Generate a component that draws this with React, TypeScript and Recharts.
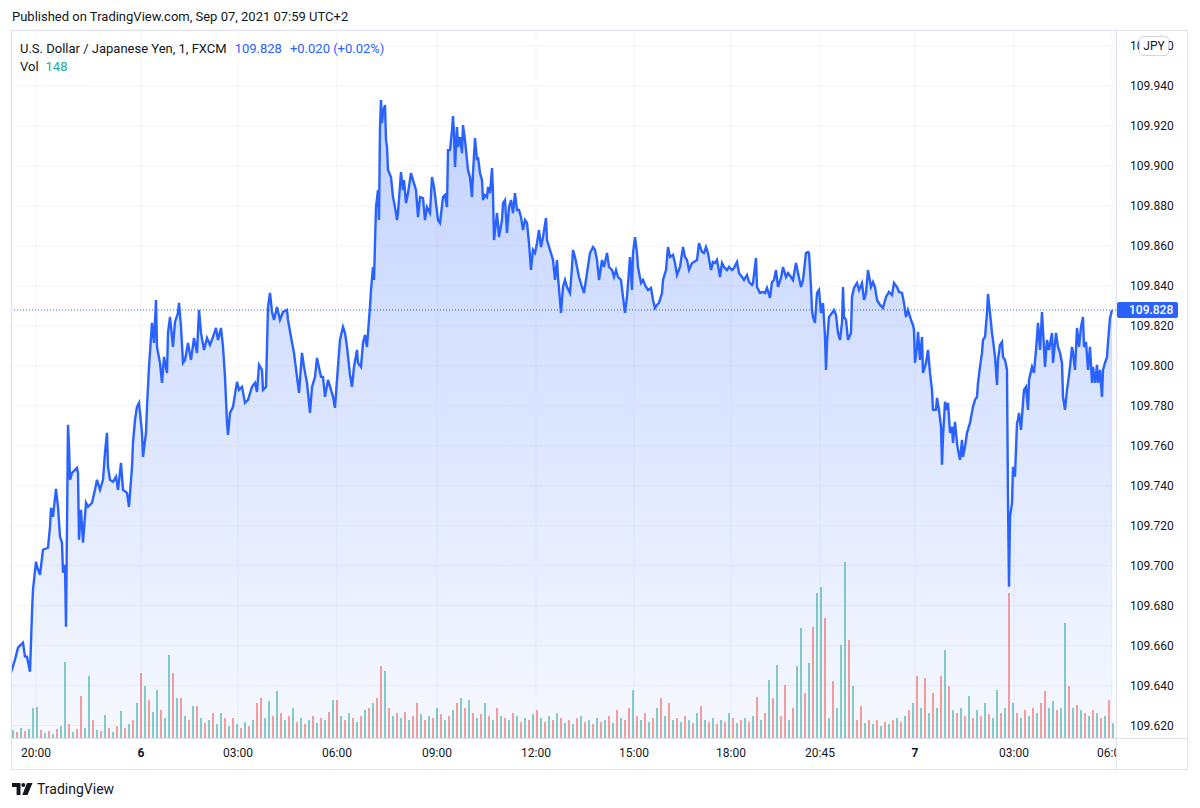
import React from "react";
import {
  ComposedChart,
  Area,
  Bar,
  XAxis,
  YAxis,
  CartesianGrid,
  ReferenceLine,
} from "recharts";

const FONT = 'Roboto, "Noto Sans", Arial, sans-serif';
const TEXT = "#131722";
const BLUE = "#2962ff";
const UP = "#26a69a";
const DOWN = "#ef5350";
const BORDER = "#e0e3eb";

// time slot (1 slot ~ one pixel column of the session) vs close price
const closes: [number, number][] = [
  [0,109.6465],[4,109.653],[7,109.659],[10,109.6605],[12,109.6615],[14,109.6545],[16,109.6545],[19,109.647],[21,109.6765],[22,109.688],
  [25,109.702],[26,109.6995],[29,109.6955],[32,109.708],[37,109.709],[39,109.7195],[40,109.729],[42,109.7245],[45,109.7385],[47,109.7295],
  [49,109.7145],[51,109.7115],[52,109.6965],[54,109.7005],[55,109.6695],[57,109.7705],[58,109.7595],[59,109.743],[61,109.7465],[62,109.747],
  [66,109.749],[67,109.7465],[68,109.713],[70,109.728],[72,109.7115],[75,109.7315],[77,109.7295],[81,109.7315],[84,109.738],[86,109.743],
  [89,109.738],[92,109.743],[94,109.7565],[96,109.7665],[97,109.7495],[99,109.743],[102,109.742],[105,109.7445],[107,109.738],[110,109.7515],
  [112,109.738],[116,109.7365],[118,109.7295],[121,109.7495],[122,109.7615],[124,109.773],[126,109.7795],[128,109.7815],[131,109.7665],[132,109.7545],
  [135,109.7665],[136,109.7795],[138,109.7995],[141,109.8215],[143,109.8115],[145,109.833],[146,109.8095],[149,109.8015],[151,109.7915],[153,109.8045],
  [156,109.7965],[157,109.8165],[159,109.8245],[162,109.8095],[164,109.822],[167,109.8265],[168,109.8315],[170,109.8195],[172,109.8015],[174,109.803],
  [177,109.8115],[180,109.803],[183,109.814],[186,109.8065],[188,109.828],[190,109.8165],[193,109.808],[196,109.814],[199,109.8105],[202,109.8145],
  [205,109.819],[207,109.813],[210,109.819],[212,109.8095],[214,109.7945],[216,109.7715],[217,109.7655],[219,109.7765],[222,109.7795],[226,109.792],
  [228,109.788],[231,109.7895],[234,109.7815],[237,109.783],[241,109.7895],[244,109.7915],[246,109.787],[248,109.8005],[251,109.798],[252,109.788],
  [255,109.7895],[257,109.8295],[259,109.8365],[261,109.827],[263,109.823],[266,109.8295],[269,109.823],[272,109.827],[276,109.828],[277,109.823],
  [280,109.8145],[283,109.8065],[286,109.7945],[288,109.7865],[291,109.8065],[293,109.7995],[296,109.7915],[299,109.7765],[301,109.7895],[304,109.7945],
  [306,109.804],[307,109.8015],[310,109.7945],[312,109.7945],[314,109.7845],[317,109.793],[320,109.788],[322,109.7845],[324,109.779],[326,109.793],
  [329,109.813],[332,109.8195],[334,109.8165],[336,109.8095],[339,109.7955],[341,109.7895],[343,109.7995],[346,109.808],[347,109.8015],[350,109.7995],
  [352,109.8115],[354,109.8155],[356,109.8095],[357,109.8165],[359,109.8295],[360,109.838],[362,109.8495],[363,109.843],[365,109.8795],[367,109.888],
  [368,109.873],[369,109.919],[370,109.933],[371,109.9215],[372,109.927],[374,109.9305],[375,109.913],[376,109.9095],[377,109.898],[380,109.8945],
  [382,109.8845],[384,109.8795],[386,109.873],[387,109.8765],[390,109.897],[392,109.888],[393,109.893],[395,109.8815],[397,109.8865],[400,109.8965],
  [402,109.893],[405,109.888],[407,109.8745],[409,109.8845],[412,109.884],[414,109.873],[416,109.8795],[419,109.8765],[421,109.8945],[423,109.8895],
  [425,109.8815],[427,109.873],[429,109.8715],[432,109.8845],[434,109.8855],[436,109.8795],[437,109.908],[439,109.908],[441,109.918],[442,109.925],
  [443,109.9165],[444,109.8995],[446,109.9195],[447,109.9095],[449,109.9145],[451,109.9065],[452,109.9205],[454,109.913],[456,109.903],[457,109.898],
  [459,109.8945],[461,109.8845],[462,109.8965],[464,109.914],[466,109.903],[467,109.9045],[469,109.8965],[471,109.893],[472,109.883],[474,109.8855],
  [476,109.8845],[477,109.8895],[479,109.8865],[481,109.899],[482,109.8865],[483,109.863],[486,109.8765],[488,109.8645],[491,109.873],[492,109.8815],
  [494,109.883],[496,109.8665],[498,109.8795],[500,109.883],[502,109.8765],[504,109.8865],[506,109.878],[508,109.878],[510,109.8745],[512,109.868],
  [514,109.873],[516,109.8715],[518,109.8615],[520,109.848],[522,109.858],[524,109.8565],[526,109.8615],[528,109.868],[530,109.8595],[532,109.8645],
  [535,109.874],[536,109.863],[539,109.858],[542,109.853],[544,109.843],[546,109.853],[547,109.8445],[550,109.8265],[552,109.8395],[554,109.843],
  [556,109.8395],[559,109.8365],[561,109.8495],[562,109.858],[564,109.8545],[566,109.8495],[568,109.8445],[571,109.8395],[573,109.8365],[576,109.8465],
  [579,109.8565],[582,109.8595],[584,109.858],[586,109.853],[588,109.843],[591,109.853],[593,109.8495],[596,109.8565],[598,109.8495],[601,109.848],
  [603,109.8445],[605,109.848],[607,109.8445],[610,109.843],[612,109.8345],[614,109.8265],[616,109.8345],[619,109.8545],[621,109.838],[622,109.8565],
  [624,109.8645],[626,109.8565],[627,109.8495],[630,109.8415],[632,109.843],[635,109.8395],[637,109.838],[640,109.839],[642,109.833],[644,109.829],
  [646,109.8305],[648,109.8315],[651,109.8365],[652,109.843],[655,109.848],[657,109.8595],[659,109.8545],[662,109.8555],[664,109.8515],[666,109.8455],
  [669,109.8495],[672,109.8595],[674,109.8545],[676,109.853],[678,109.848],[681,109.8515],[683,109.852],[686,109.853],[688,109.8615],[691,109.857],
  [693,109.8565],[695,109.8595],[697,109.8565],[700,109.848],[702,109.852],[704,109.8515],[706,109.853],[709,109.8445],[711,109.8515],[713,109.8495],
  [716,109.848],[718,109.8495],[721,109.848],[723,109.849],[726,109.852],[728,109.8465],[731,109.8445],[733,109.843],[736,109.8455],[738,109.842],
  [741,109.8405],[742,109.8415],[745,109.854],[746,109.8395],[749,109.8365],[752,109.837],[754,109.8365],[756,109.839],[759,109.834],[761,109.842],
  [763,109.843],[765,109.848],[767,109.8395],[770,109.844],[772,109.8495],[775,109.8445],[777,109.8465],[780,109.8445],[782,109.843],[785,109.8515],
  [787,109.8465],[790,109.8395],[792,109.843],[795,109.8565],[797,109.857],[798,109.8565],[800,109.8395],[801,109.828],[802,109.8245],[804,109.8215],
  [806,109.8365],[808,109.838],[810,109.8265],[812,109.8315],[814,109.8145],[815,109.798],[816,109.8115],[818,109.8245],[821,109.8265],[823,109.828],
  [825,109.8255],[827,109.8165],[829,109.813],[831,109.8215],[832,109.8395],[833,109.8245],[835,109.823],[837,109.813],[840,109.8165],[841,109.8345],
  [843,109.839],[846,109.8415],[848,109.838],[851,109.8415],[853,109.833],[855,109.8365],[857,109.848],[860,109.8395],[862,109.842],[864,109.8395],
  [866,109.833],[869,109.8305],[872,109.829],[875,109.8345],[878,109.837],[881,109.8355],[883,109.8415],[886,109.8395],[888,109.837],[891,109.8365],
  [893,109.8315],[895,109.8245],[897,109.828],[900,109.823],[902,109.8205],[903,109.818],[904,109.8015],[906,109.8095],[907,109.817],[909,109.803],
  [911,109.8145],[912,109.7965],[915,109.8015],[917,109.808],[919,109.7965],[921,109.788],[922,109.778],[925,109.778],[926,109.784],[928,109.778],
  [930,109.7695],[931,109.7505],[932,109.7645],[934,109.782],[936,109.778],[937,109.7815],[939,109.7665],[941,109.7695],[942,109.7615],[944,109.772],
  [946,109.7615],[947,109.758],[949,109.753],[951,109.763],[952,109.7545],[954,109.7595],[956,109.7665],[959,109.7715],[962,109.7795],[964,109.783],
  [966,109.7845],[967,109.7915],[969,109.7995],[971,109.8065],[972,109.813],[974,109.8145],[976,109.8265],[977,109.836],[979,109.8265],[981,109.8165],
  [982,109.813],[984,109.8045],[986,109.7905],[987,109.803],[989,109.8105],[991,109.812],[992,109.8045],[994,109.803],[996,109.798],[997,109.7315],
  [998,109.6895],[999,109.7245],[1001,109.7315],[1002,109.7495],[1004,109.7445],[1006,109.7715],[1007,109.773],[1008,109.7765],[1010,109.768],[1012,109.7815],
  [1013,109.788],[1015,109.7895],[1017,109.778],[1018,109.793],[1021,109.7995],[1023,109.7965],[1025,109.808],[1027,109.8215],[1029,109.808],[1031,109.827],
  [1032,109.818],[1034,109.7995],[1036,109.813],[1038,109.808],[1041,109.8165],[1042,109.8015],[1045,109.8165],[1047,109.8095],[1049,109.8065],[1051,109.8015],
  [1052,109.7845],[1054,109.778],[1056,109.788],[1057,109.7915],[1059,109.7995],[1061,109.8095],[1062,109.8065],[1064,109.798],[1066,109.819],[1068,109.8095],
  [1070,109.8195],[1072,109.8245],[1073,109.8095],[1075,109.812],[1077,109.798],[1079,109.8095],[1081,109.7915],[1082,109.7995],[1084,109.7915],[1086,109.8005],
  [1087,109.7915],[1089,109.798],[1091,109.7845],[1092,109.798],[1094,109.8015],[1096,109.8045],[1097,109.8115],[1099,109.824],[1101,109.828],
];

// volume per slot group, negative = down bar (red), positive = up bar (teal)
const VOL_FIRST_SLOT = 2;
const VOL_SLOT = 4;
const volumes = [
  80,-60,100,-70,90,300,310,-80,50,-70,40,-90,120,760,-140,60,-90,-420,100,620,-180,80,-70,230,-100,60,-120,270,-100,140,
  -180,350,-650,520,-380,260,480,-280,200,830,-650,400,-400,220,-180,320,-320,200,-150,180,-250,140,250,-200,120,-200,140,-100,160,-120,
  180,-350,-400,200,370,-220,470,-250,180,-220,300,-160,200,-140,180,-220,150,-200,180,-260,380,-380,220,-180,250,-200,160,-220,280,-300,
  350,-400,-720,670,-300,220,-250,
  200,-260,180,-220,-350,240,-180,220,-200,300,-240,180,-220,280,-350,400,-300,380,-250,200,-240,350,-220,180,-300,220,-200,180,-250,220,
  -160,200,-180,240,-280,200,-160,220,-180,250,-200,150,-180,140,-200,220,-160,180,-140,200,-160,180,-220,150,-280,200,-180,-300,480,-220,
  180,-250,160,-200,300,-400,220,-350,180,-200,160,-220,180,-150,250,-320,180,-160,200,-140,180,-160,250,-200,150,-180,200,-160,220,
  -410,180,-250,580,-400,730,-220,-530,180,-300,720,1100,-450,750,-1110,1450,1510,-1200,200,-570,300,930,1760,-980,520,-180,-320,150,-180,140,
  -180,120,-160,140,-180,200,-160,220,-280,350,-620,300,-600,250,-450,300,-620,880,-520,280,-250,300,-220,420,-200,280,-220,350,-240,200,
  480,-250,300,-1450,350,-250,200,-280,220,-300,250,-350,-470,300,370,-280,300,1150,-520,300,-330,280,-250,220,-280,250,-200,220,-380,148,
];

const timeTicks = [25, 130, 227, 326, 426, 525, 623, 720, 809, 904, 1003, 1101];
const timeLabels = ["20:00", "6", "03:00", "06:00", "09:00", "12:00", "15:00", "18:00", "20:45", "7", "03:00", "06:00"];
const dayLabels = ["6", "7"];
const priceTicks = [
  109.62, 109.64, 109.66, 109.68, 109.7, 109.72, 109.74, 109.76, 109.78,
  109.8, 109.82, 109.84, 109.86, 109.88, 109.9, 109.92, 109.94, 109.96,
];
const priceDomain = [109.6138, 109.9681];
const volDomain = [0, 7080];
const lastPrice = 109.828;
const lastChange = "+0.020 (+0.02%)";
const lastVol = 148;

type Row = { t: number; close?: number; vol?: number; down?: boolean };

const rowMap = new Map<number, Row>();
closes.forEach(([t, c]) => rowMap.set(t, { t, close: c }));
volumes.forEach((v, i) => {
  const t = VOL_FIRST_SLOT + i * VOL_SLOT;
  const r = rowMap.get(t) ?? { t };
  r.vol = Math.abs(v);
  r.down = v < 0;
  rowMap.set(t, r);
});
const rows = Array.from(rowMap.values()).sort((a, b) => a.t - b.t);

const TimeTick = (props: any) => {
  const { x, y, payload } = props;
  const idx = timeTicks.indexOf(payload.value);
  const label = idx >= 0 ? timeLabels[idx] : "";
  return (
    <text
      x={x}
      y={y}
      dy="0.71em"
      textAnchor="middle"
      fontSize={12}
      fontFamily={FONT}
      fill={TEXT}
      fontWeight={dayLabels.includes(label) ? 700 : 400}
    >
      {label}
    </text>
  );
};

// the slots are narrower than a pixel, so each volume bar is drawn 2px wide around its slot
const VolBar = (props: any) => {
  const { x, y, width, height, payload } = props;
  if (!height || height <= 0) return null;
  const cx = x + width / 2;
  return (
    <rect
      x={cx - 1}
      y={y}
      width={2}
      height={height}
      fill={payload.down ? DOWN : UP}
      fillOpacity={0.55}
    />
  );
};

const PriceTag = (props: any) => {
  const { viewBox } = props;
  if (!viewBox) return null;
  const x = viewBox.x + viewBox.width + 1;
  const y = viewBox.y;
  return (
    <g>
      <rect x={x} y={y - 8} width={61} height={16} rx={2} fill={BLUE} />
      <text x={x + 12} y={y} dy="0.36em" fill="#fff" fontSize={12} fontWeight={500} fontFamily={FONT}>
        {lastPrice.toFixed(3)}
      </text>
    </g>
  );
};

const abs = (s: React.CSSProperties): React.CSSProperties => ({ position: "absolute", ...s });

export default function App() {
  return (
    <div style={abs({ left: 0, top: 0, width: 1200, height: 808, background: "#fff", fontFamily: FONT, color: TEXT, overflow: "hidden" })}>
      <div style={abs({ left: 0, top: 0 })}>
        <ComposedChart
          width={1200}
          height={808}
          data={rows}
          margin={{ top: 30, right: 12, bottom: 38, left: 11 }}
        >
          <defs>
            <linearGradient id="areaFill" x1="0" y1="0" x2="0" y2="1">
              <stop offset="0%" stopColor={BLUE} stopOpacity={0.28} />
              <stop offset="100%" stopColor={BLUE} stopOpacity={0.04} />
            </linearGradient>
          </defs>
          <CartesianGrid yAxisId="price" stroke="#f0f3fa" strokeWidth={1} />
          <XAxis
            type="number"
            dataKey="t"
            domain={[0, 1105]}
            allowDataOverflow
            ticks={timeTicks}
            interval={0}
            height={32}
            axisLine={false}
            tickLine={false}
            tickSize={6}
            tickMargin={4}
            tick={<TimeTick />}
          />
          <YAxis
            yAxisId="price"
            orientation="right"
            domain={priceDomain}
            allowDataOverflow
            ticks={priceTicks}
            interval={0}
            width={72}
            axisLine={false}
            tickLine={false}
            tickSize={6}
            tickMargin={8}
            tickFormatter={(v: number) => v.toFixed(3)}
            tick={{ fontSize: 12, fill: TEXT, fontFamily: FONT }}
          />
          <YAxis yAxisId="vol" hide domain={volDomain} allowDataOverflow />
          <Bar yAxisId="vol" dataKey="vol" shape={<VolBar />} isAnimationActive={false} />
          <Area
            yAxisId="price"
            type="linear"
            dataKey="close"
            stroke={BLUE}
            strokeWidth={2.4}
            fill="url(#areaFill)"
            fillOpacity={1}
            connectNulls
            dot={false}
            activeDot={false}
            isAnimationActive={false}
          />
          <ReferenceLine
            yAxisId="price"
            y={lastPrice}
            stroke={BLUE}
            strokeWidth={1}
            strokeDasharray="1 2"
            label={<PriceTag />}
          />
        </ComposedChart>
      </div>

      {/* frame and pane separators */}
      <div style={abs({ left: 11, top: 30, width: 1177, height: 740, border: `1px solid ${BORDER}`, boxSizing: "border-box" })} />
      <div style={abs({ left: 1116, top: 30, width: 1, height: 740, background: BORDER })} />
      <div style={abs({ left: 11, top: 738, width: 1177, height: 1, background: BORDER })} />
      <div style={abs({ left: 1117, top: 739, width: 70, height: 30, background: "#fff" })} />

      {/* currency badge */}
      <div
        style={abs({
          left: 1139, top: 36, width: 30, height: 20, boxSizing: "border-box",
          border: "1px solid #d1d4dc", borderRadius: 4, background: "#fff",
          fontSize: 12, lineHeight: "18px", textAlign: "center",
        })}
      >
        JPY
      </div>

      {/* header */}
      <div style={abs({ left: 12, top: 9, fontSize: 13, lineHeight: "16px", whiteSpace: "nowrap" })}>
        Published on TradingView.com, Sep 07, 2021 07:59 UTC+2
      </div>
      <div style={abs({ left: 20, top: 41, fontSize: 13, lineHeight: "16px", whiteSpace: "nowrap" })}>
        U.S. Dollar / Japanese Yen, 1, FXCM
        <span style={{ color: BLUE, marginLeft: 8 }}>{lastPrice.toFixed(3)}</span>
        <span style={{ color: BLUE, marginLeft: 8 }}>{lastChange}</span>
      </div>
      <div style={abs({ left: 20, top: 59, fontSize: 13, lineHeight: "16px", whiteSpace: "nowrap" })}>
        Vol<span style={{ color: "#22ab94", marginLeft: 7 }}>{lastVol}</span>
      </div>

      {/* footer logo */}
      <svg style={abs({ left: 12, top: 783 })} width={21} height={12} viewBox="0 0 21 12">
        <path d="M0 0 H8.5 V12 H4.6 V4 H0 Z" fill={TEXT} />
        <circle cx={11.3} cy={2} r={2} fill={TEXT} />
        <path d="M15 0 H20.5 L15.5 12 H10.3 Z" fill={TEXT} />
      </svg>
      <div style={abs({ left: 37, top: 780, fontSize: 14, lineHeight: "18px", whiteSpace: "nowrap" })}>
        TradingView
      </div>
    </div>
  );
}
